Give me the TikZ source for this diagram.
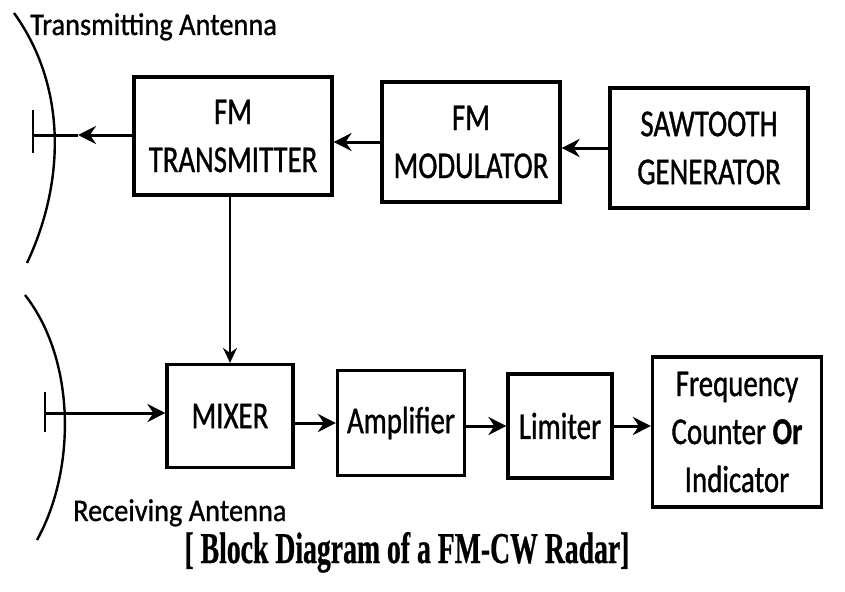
\documentclass[tikz,border=0pt]{standalone}
\usepackage{fontspec}
\newfontfamily\boxfont[FakeStretch=0.76,FakeBold=0.9]{Carlito}
\newfontfamily\lblfont[FakeStretch=0.9,FakeBold=0.9]{Carlito}
\newfontfamily\capfont[FakeStretch=0.63,FakeBold=0.6]{Liberation Serif}
\usetikzlibrary{arrows.meta}
\begin{document}
\begin{tikzpicture}[x=1pt,y=-1pt,
  blk/.style={draw=black, line width=3.2pt, align=center, inner sep=0pt,
    font=\boxfont\fontsize{38}{48}\selectfont},
  conn/.style={line width=3pt},
  arr/.style={conn, -{Stealth[length=18pt,width=18pt,inset=6pt]}},
  thinarr/.style={line width=1.6pt, -{Stealth[length=15pt,width=14pt,inset=5pt]}},
  dish/.style={line width=2.4pt},
  lbl/.style={inner sep=0pt, font=\lblfont\fontsize{31.5}{36}\selectfont},
  captxt/.style={inner sep=0pt, font=\capfont\bfseries\fontsize{44}{50}\selectfont}]
\useasboundingbox (0,0) rectangle (845,591);

% blocks
\node[blk, minimum width=198pt, minimum height=118pt] (tx) at (233,136) {FM\\TRANSMITTER};
\node[blk, minimum width=178pt, minimum height=120pt] (mod) at (471,142) {FM\\MODULATOR};
\node[blk, minimum width=198pt, minimum height=120pt] (saw) at (709,148) {SAWTOOTH\\GENERATOR};
\node[blk, minimum width=126pt, minimum height=103pt] (mix) at (230,416) {MIXER};
\node[blk, minimum width=127pt, minimum height=105pt] (amp) at (401,423) {Amplifier};
\node[blk, minimum width=104pt, minimum height=104pt] (lim) at (560,426) {Limiter};
\node[blk, minimum width=169pt, minimum height=150pt] (frq) at (737,432) {Frequency\\Counter \textbf{Or}\\Indicator};

% transmitting antenna
\draw[dish] (14,13) .. controls (66,85) and (66,180) .. (27,263);
\coordinate (txfeed) at (33,135);
\coordinate (txmid) at (78,135);
\draw[line width=2.2pt] (33,110) -- (33,153);
\draw[arr] (txfeed -| tx.west) -- (txmid);
\draw[conn] (txmid) -- (txfeed);

% receiving antenna
\draw[dish] (25,295) .. controls (76,360) and (76,470) .. (37,540);
\coordinate (rxfeed) at (45,413);
\draw[line width=2.2pt] (45,392) -- (45,432);
\draw[arr] (rxfeed) -- (rxfeed -| mix.west);

% top chain
\draw[arr] (saw.west) -- (saw.west -| mod.east);
\draw[arr] (mod.west) -- (mod.west -| tx.east);
\draw[thinarr] (mix.north |- tx.south) -- (mix.north);

% bottom chain
\draw[arr] (amp.west -| mix.east) -- (amp.west);
\draw[arr] (lim.west -| amp.east) -- (lim.west);
\draw[arr] (lim.east) -- (lim.east -| frq.west);

% labels
\node[lbl, anchor=base west] (tlabel) at (30,35) {Transmitting Antenna};
\node[lbl, anchor=base west] (rlabel) at (73,521) {Receiving Antenna};
\node[captxt, anchor=base] (cap) at (407,563) {[ Block Diagram of a FM-CW Radar]};
\end{tikzpicture}
\end{document}
